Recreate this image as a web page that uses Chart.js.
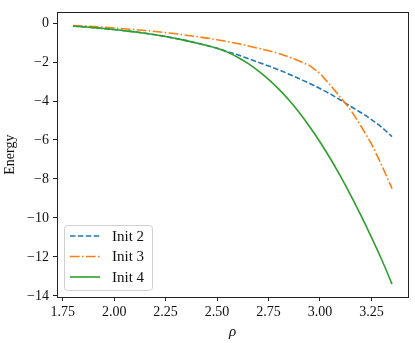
<!DOCTYPE html>
<html>
<head>
<meta charset="utf-8">
<script src="https://cdn.jsdelivr.net/npm/chart.js@4.4.0/dist/chart.umd.min.js"></script>
<style>
  html, body { margin: 0; padding: 0; background: #fff; }
  canvas { display: block; }
</style>
</head>
<body>
<canvas id="energyChart" width="415" height="343"></canvas>
<script>
// ── Data ──────────────────────────────────────────────────────
const rho = [
    1.80, 1.85, 1.90, 1.95, 2.00, 2.05, 2.10, 2.15, 2.20, 2.25, 2.30,
    2.35, 2.40, 2.45, 2.50, 2.55, 2.60, 2.65, 2.70, 2.75, 2.80, 2.85,
    2.90, 2.95, 3.00, 3.05, 3.10, 3.15, 3.20, 3.25, 3.30, 3.35
];
const init2 = [
    -0.15, -0.19, -0.23, -0.28, -0.33, -0.39, -0.45, -0.52, -0.60, -0.69, -0.79,
    -0.90, -1.02, -1.15, -1.29, -1.46, -1.63, -1.82, -2.01, -2.20, -2.40, -2.62,
    -2.86, -3.10, -3.36, -3.64, -3.95, -4.28, -4.60, -4.95, -5.35, -5.83
];
const init3 = [
    -0.12, -0.15, -0.18, -0.21, -0.25, -0.29, -0.33, -0.38, -0.43, -0.49, -0.55,
    -0.62, -0.69, -0.77, -0.85, -0.95, -1.05, -1.17, -1.29, -1.42, -1.56, -1.74,
    -1.95, -2.18, -2.58, -3.18, -3.82, -4.47, -5.30, -6.20, -7.30, -8.50
];
const init4 = [
    -0.15, -0.19, -0.23, -0.28, -0.33, -0.39, -0.45, -0.52, -0.60, -0.69, -0.79,
    -0.90, -1.02, -1.15, -1.29, -1.49, -1.75, -2.07, -2.45, -2.89, -3.39, -3.96,
    -4.60, -5.32, -6.10, -6.95, -7.87, -8.85, -9.90, -11.00, -12.15, -13.40
];
const seriesLabels = ['Init 2', 'Init 3', 'Init 4'];
const xTicks = [1.75, 2.00, 2.25, 2.50, 2.75, 3.00, 3.25];
const yTicks = [0, -2, -4, -6, -8, -10, -12, -14];

const SERIF = '"Liberation Serif", "DejaVu Serif", serif';
const INK   = '#222';

// Pair up x and y values for the linear x axis
const toPoints = (ys) => rho.map((x, i) => ({ x: x, y: ys[i] }));

// ── Frame: matplotlib draws all four spines ───────────────────
const framePlugin = {
    id: 'frame',
    afterDatasetsDraw(chart) {
        const { ctx, chartArea: a } = chart;
        ctx.save();
        ctx.strokeStyle = INK;
        ctx.lineWidth = 1;
        ctx.strokeRect(Math.round(a.left) + 0.5, Math.round(a.top) + 0.5,
                       Math.round(a.right - a.left), Math.round(a.bottom - a.top));
        ctx.restore();
    }
};

// ── Legend box in the lower left of the plot ──────────────────
const legendPlugin = {
    id: 'insideLegend',
    afterDraw(chart) {
        const { ctx, chartArea: a } = chart;
        const left = a.left + 7, bottom = a.bottom - 7;
        const w = 88, h = 65, top = bottom - h;
        ctx.save();
        ctx.fillStyle = 'rgba(255,255,255,0.8)';
        ctx.strokeStyle = '#d0d0d0';
        ctx.lineWidth = 1;
        ctx.beginPath();
        ctx.roundRect(left + 0.5, top + 0.5, w, h, 3);
        ctx.fill();
        ctx.stroke();

        ctx.font = '15px ' + SERIF;
        ctx.textBaseline = 'middle';
        chart.data.datasets.forEach((ds, i) => {
            const y = top + 11 + i * 20.5;
            ctx.strokeStyle = ds.borderColor;
            ctx.lineWidth = ds.borderWidth;
            ctx.setLineDash(ds.borderDash || []);
            ctx.beginPath();
            ctx.moveTo(left + 6, y);
            ctx.lineTo(left + 36, y);
            ctx.stroke();
            ctx.setLineDash([]);
            ctx.fillStyle = '#111';
            ctx.fillText(ds.label, left + 48, y + 1);
        });
        ctx.restore();
    }
};

new Chart(document.getElementById('energyChart'), {
    type: 'line',
    data: {
        datasets: [
            {
                label: seriesLabels[0],
                data: toPoints(init2),
                borderColor: '#1f77b4',
                borderWidth: 1.6,
                borderDash: [5.5, 2.4],
                cubicInterpolationMode: 'monotone',
                order: 2
            },
            {
                label: seriesLabels[1],
                data: toPoints(init3),
                borderColor: '#ff7f0e',
                borderWidth: 1.6,
                borderDash: [9.6, 2.4, 1.6, 2.4],
                order: 1
            },
            {
                label: seriesLabels[2],
                data: toPoints(init4),
                borderColor: '#2ca02c',
                borderWidth: 1.6,
                cubicInterpolationMode: 'monotone',
                order: 0
            }
        ]
    },
    options: {
        responsive: false,
        animation: false,
        elements: { point: { radius: 0 }, line: { tension: 0, fill: false } },
        layout: { padding: { top: 7, right: 7, left: 0, bottom: 0 } },
        plugins: { legend: { display: false }, tooltip: { enabled: false } },
        scales: {
            x: {
                type: 'linear',
                min: 1.7225,
                max: 3.4275,
                afterBuildTicks: (s) => { s.ticks = xTicks.map(v => ({ value: v })); },
                afterFit: (s) => { s.height = 46; },
                border: { display: false },
                grid: { drawOnChartArea: false, drawTicks: true, tickLength: 4, color: INK },
                ticks: {
                    padding: 3,
                    color: '#111',
                    font: { family: SERIF, size: 14 },
                    maxRotation: 0,
                    callback: (v) => v.toFixed(2)
                },
                title: {
                    display: true,
                    text: 'ρ',
                    color: '#111',
                    padding: { top: 0, bottom: 2 },
                    font: { family: SERIF, size: 15, style: 'italic' }
                }
            },
            y: {
                min: -14.06,
                max: 0.55,
                afterBuildTicks: (s) => { s.ticks = yTicks.map(v => ({ value: v })); },
                afterFit: (s) => { s.width = 57; },
                border: { display: false },
                grid: { drawOnChartArea: false, drawTicks: true, tickLength: 4, color: INK },
                ticks: {
                    padding: 4,
                    color: '#111',
                    font: { family: SERIF, size: 14 },
                    callback: (v) => (v < 0 ? '\u2212' + Math.abs(v) : String(v))
                },
                title: {
                    display: true,
                    text: 'Energy',
                    color: '#111',
                    padding: { top: 2, bottom: 0 },
                    font: { family: SERIF, size: 14 }
                }
            }
        }
    },
    plugins: [framePlugin, legendPlugin]
});
</script>
</body>
</html>
